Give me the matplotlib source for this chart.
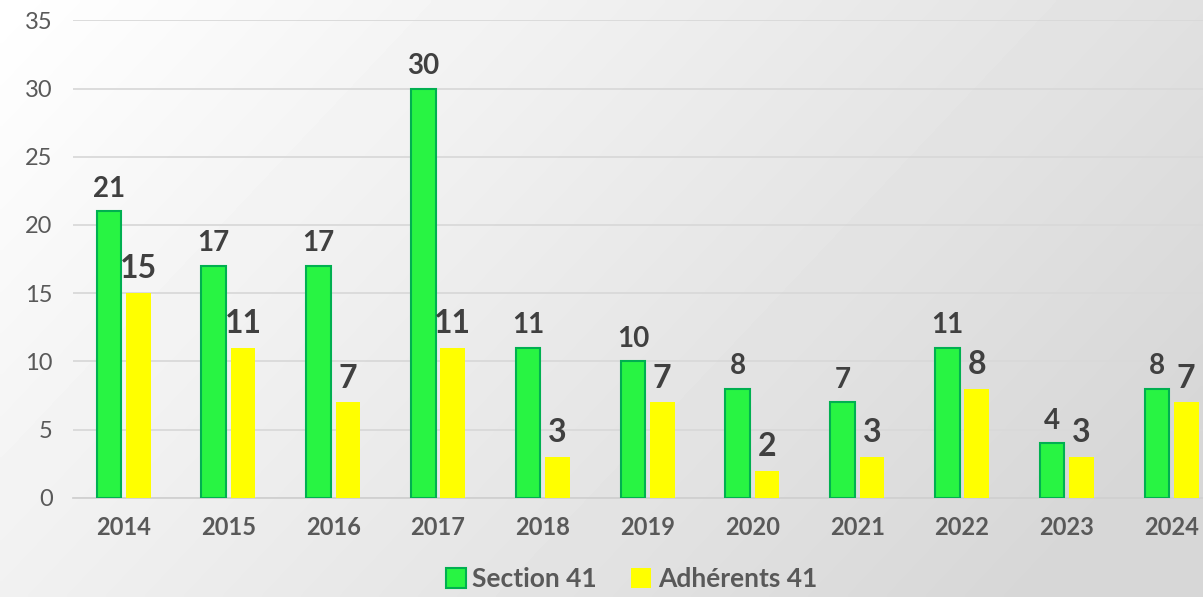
import numpy as np
import matplotlib.pyplot as plt
from matplotlib.patches import Patch

# Données
annees = ['2014', '2015', '2016', '2017', '2018', '2019', '2020', '2021', '2022', '2023', '2024']
section = [21, 17, 17, 30, 11, 10, 8, 7, 11, 4, 8]
adherents = [15, 11, 7, 11, 3, 7, 2, 3, 8, 3, 7]

plt.rcParams['font.family'] = ['Lato', 'DejaVu Sans']

fig = plt.figure(figsize=(12.03, 5.97), dpi=100)

# fond dégradé (blanc en haut à gauche -> gris clair en bas à droite)
bg = fig.add_axes([0, 0, 1, 1], zorder=0)
xx, yy = np.meshgrid(np.linspace(0, 1, 300), np.linspace(0, 1, 150))
t = np.clip(0.75 * xx + 0.35 * yy, 0, 1)
bg.imshow(1 - 0.16 * t, cmap='gray', vmin=0, vmax=1, aspect='auto',
          extent=[0, 1, 0, 1], interpolation='bilinear')
bg.axis('off')

ax = fig.add_axes([0.061, 0.166, 0.939, 0.800], zorder=1)
ax.patch.set_alpha(0)

x = np.arange(len(annees))
w = 0.235
b1 = ax.bar(x - 0.14, section, w, color='#28F443', edgecolor='#00B050', linewidth=1.5,
            label='Section 41', zorder=3)
b2 = ax.bar(x + 0.14, adherents, w, color='#FFFF00', label='Adhérents 41', zorder=3)

for rects, vals, fs in ((b1, section, 20), (b2, adherents, 23)):
    for r, v in zip(rects, vals):
        ax.annotate(str(v), (r.get_x() + r.get_width() / 2, v), xytext=(0, 7),
                    textcoords='offset points', ha='center', va='bottom',
                    fontsize=fs, fontweight='bold', color='#404040')

ax.set_ylim(0, 35)
ax.set_yticks(range(0, 36, 5))
ax.set_xlim(-0.48, 10.3)
ax.set_xticks(x)
ax.set_xticklabels(annees, fontweight='bold', fontsize=17, color='#595959')
ax.tick_params(axis='y', labelsize=17, labelcolor='#595959', length=0, pad=15)
ax.tick_params(axis='x', length=0, pad=13)
ax.grid(axis='y', color='#d9d9d9', linewidth=1.3, zorder=0)
for s in ['top', 'right', 'left']:
    ax.spines[s].set_visible(False)
ax.spines['bottom'].set_color('#d0d0d0')
ax.spines['bottom'].set_linewidth(1.3)

handles = [Patch(facecolor='#28F443', edgecolor='#00B050', linewidth=1.5, label='Section 41'),
           Patch(facecolor='#FFFF00', label='Adhérents 41')]
leg = fig.legend(handles=handles, loc='center', bbox_to_anchor=(0.525, 0.03), ncol=2,
                 frameon=False, handlelength=0.75, handleheight=0.75, handletextpad=0.25,
                 columnspacing=1.3, borderpad=0, prop={'weight': 'bold', 'size': 19})
for txt in leg.get_texts():
    txt.set_color('#595959')

plt.savefig('out.png', dpi=100)
